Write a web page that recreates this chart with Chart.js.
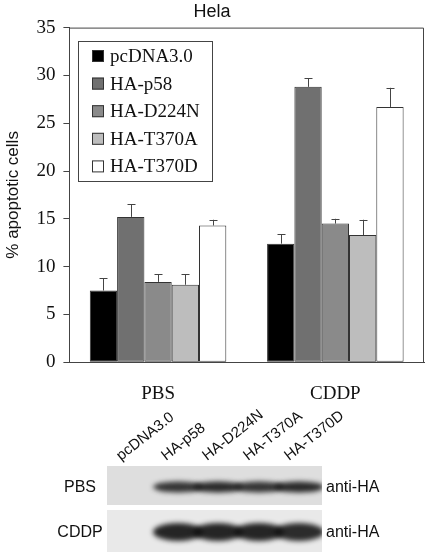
<!DOCTYPE html>
<html>
<head>
<meta charset="utf-8">
<script src="https://cdn.jsdelivr.net/npm/chart.js@4.4.1/dist/chart.umd.min.js"></script>
<style>
  html, body { margin: 0; padding: 0; background: #fff; overflow: hidden; }
  #wrap { position: relative; width: 425px; height: 552px; }
</style>
</head>
<body>
<div id="wrap"><canvas id="chart"></canvas></div>
<script>
// groups on the x axis
const groups = ["PBS", "CDDP"];
// one series per construct
const seriesNames = ["pcDNA3.0", "HA-p58", "HA-D224N", "HA-T370A", "HA-T370D"];
const pcdna = [7.5, 12.4];
const p58 = [15.2, 28.8];
const d224n = [8.4, 14.5];
const t370a = [8.1, 13.3];
const t370d = [14.3, 26.7];
// upper error bar (+SD)
const pcdnaErr = [1.3, 1.0];
const p58Err = [1.3, 0.9];
const d224nErr = [0.8, 0.5];
const t370aErr = [1.1, 1.6];
const t370dErr = [0.6, 2.0];
const yTicks = [0, 5, 10, 15, 20, 25, 30, 35];
// western blot: band strength per lane (0 = none)
const blotRows = ["PBS", "CDDP"];
const bandPBS = [0, 0.85, 0.95, 0.85, 0.95];
const bandCDDP = [0, 1, 1, 1, 0.95];

const fills = ["#000000", "#707070", "#8a8a8a", "#bdbdbd", "#ffffff"];
const values = [pcdna, p58, d224n, t370a, t370d];
const errs = [pcdnaErr, p58Err, d224nErr, t370aErr, t370dErr];

const serif = "'Liberation Serif', 'Times New Roman', serif";
const sans = "'Liberation Sans', Arial, sans-serif";

const datasets = seriesNames.map((name, i) => ({
  label: name,
  data: values[i],
  err: errs[i],
  backgroundColor: fills[i],
  borderColor: "#333",
  borderWidth: 1,
  borderSkipped: false,
  categoryPercentage: 0.77,
  barPercentage: 1.0
}));

// box round the plot, plus the error bars
const framePlugin = {
  id: "frame",
  afterDatasetsDraw(chart) {
    const ctx = chart.ctx;
    const y = chart.scales.y;
    ctx.save();
    ctx.strokeStyle = "#444";
    ctx.lineWidth = 1;
    chart.data.datasets.forEach((ds, di) => {
      const meta = chart.getDatasetMeta(di);
      meta.data.forEach((bar, j) => {
        const top = y.getPixelForValue(ds.data[j] + ds.err[j]);
        const x = Math.round(bar.x) + 0.5;
        ctx.beginPath();
        ctx.moveTo(x, bar.y);
        ctx.lineTo(x, top);
        ctx.moveTo(x - 4, Math.round(top) + 0.5);
        ctx.lineTo(x + 4, Math.round(top) + 0.5);
        ctx.stroke();
      });
    });
    const a = chart.chartArea;
    ctx.beginPath();
    ctx.moveTo(a.left, a.top + 0.5);
    ctx.lineTo(a.right - 0.5, a.top + 0.5);
    ctx.lineTo(a.right - 0.5, a.bottom);
    ctx.stroke();
    ctx.restore();
  }
};

// legend in a framed box inside the plot
const boxLegend = {
  id: "boxLegend",
  afterDraw(chart) {
    const ctx = chart.ctx;
    ctx.save();
    ctx.strokeStyle = "#444";
    ctx.lineWidth = 1;
    ctx.strokeRect(78.5, 41.5, 134, 140);
    ctx.font = "19px " + serif;
    ctx.textBaseline = "middle";
    chart.data.datasets.forEach((ds, i) => {
      const cy = 56 + i * 27.6;
      ctx.fillStyle = ds.backgroundColor;
      ctx.fillRect(92, cy - 6, 12, 12);
      ctx.strokeStyle = "#333";
      ctx.strokeRect(92.5, cy - 5.5, 11, 11);
      ctx.fillStyle = "#111";
      ctx.fillText(ds.label, 110, cy + 1);
    });
    ctx.restore();
  }
};

// western blot panel under the chart
const blotPlugin = {
  id: "blot",
  afterDraw(chart) {
    const ctx = chart.ctx;
    ctx.save();
    // lane labels
    const laneX = [121, 166, 207, 248, 289];
    ctx.font = "15px " + sans;
    ctx.fillStyle = "#111";
    ctx.textBaseline = "alphabetic";
    seriesNames.forEach((name, i) => {
      ctx.save();
      ctx.translate(laneX[i], 461);
      ctx.rotate(-38 * Math.PI / 180);
      ctx.fillText(name, 0, 0);
      ctx.restore();
    });
    // membranes
    const rows = [
      { top: 466, h: 39, bg: "#dedede", band: bandPBS, cy: 487, bh: 11 },
      { top: 510, h: 42, bg: "#e9e9e9", band: bandCDDP, cy: 532, bh: 18 }
    ];
    const lanes = [130, 178, 218, 259, 299];
    rows.forEach((r, ri) => {
      ctx.fillStyle = r.bg;
      ctx.fillRect(107, r.top, 215, r.h);
      ctx.save();
      ctx.beginPath();
      ctx.rect(107, r.top, 215, r.h);
      ctx.clip();
      ctx.filter = "blur(2.5px)";
      r.band.forEach((s, li) => {
        if (s <= 0) return;
        const g = Math.round(45 - 30 * s);
        ctx.fillStyle = "rgba(" + g + "," + g + "," + g + "," + (0.5 + 0.4 * s) + ")";
        ctx.beginPath();
        ctx.ellipse(lanes[li], r.cy, 25, r.bh / 2, 0, 0, Math.PI * 2);
        ctx.fill();
      });
      ctx.restore();
      ctx.font = "16px " + sans;
      ctx.fillStyle = "#111";
      ctx.textBaseline = "middle";
      ctx.textAlign = "center";
      ctx.fillText(blotRows[ri], 80, r.cy + 1);
      ctx.textAlign = "left";
      ctx.fillText("anti-HA", 326, r.cy + 1);
    });
    ctx.restore();
  }
};

new Chart(document.getElementById("chart"), {
  type: "bar",
  data: { labels: groups, datasets: datasets },
  options: {
    responsive: true,
    maintainAspectRatio: false,
    animation: false,
    layout: { padding: { left: 0, right: 1, top: 0, bottom: 135 } },
    plugins: {
      legend: { display: false },
      tooltip: { enabled: false },
      title: {
        display: true,
        text: "Hela",
        color: "#111",
        font: { family: sans, size: 18, weight: "normal" },
        padding: { top: 1, bottom: 5 }
      }
    },
    scales: {
      x: {
        grid: { display: false },
        border: { display: true, color: "#444" },
        ticks: { color: "#111", font: { family: serif, size: 19 }, padding: 12 }
      },
      y: {
        min: 0,
        max: 35,
        afterBuildTicks(axis) { axis.ticks = yTicks.map(v => ({ value: v })); },
        grid: { drawOnChartArea: false, drawTicks: true, tickLength: 6, color: "#444" },
        border: { display: true, color: "#444" },
        ticks: { color: "#111", font: { family: serif, size: 19 }, padding: 8 },
        title: {
          display: true,
          text: "% apoptotic cells",
          color: "#111",
          font: { family: sans, size: 17 },
          padding: { top: 3, bottom: 5 }
        }
      }
    }
  },
  plugins: [framePlugin, boxLegend, blotPlugin]
});
</script>
</body>
</html>
